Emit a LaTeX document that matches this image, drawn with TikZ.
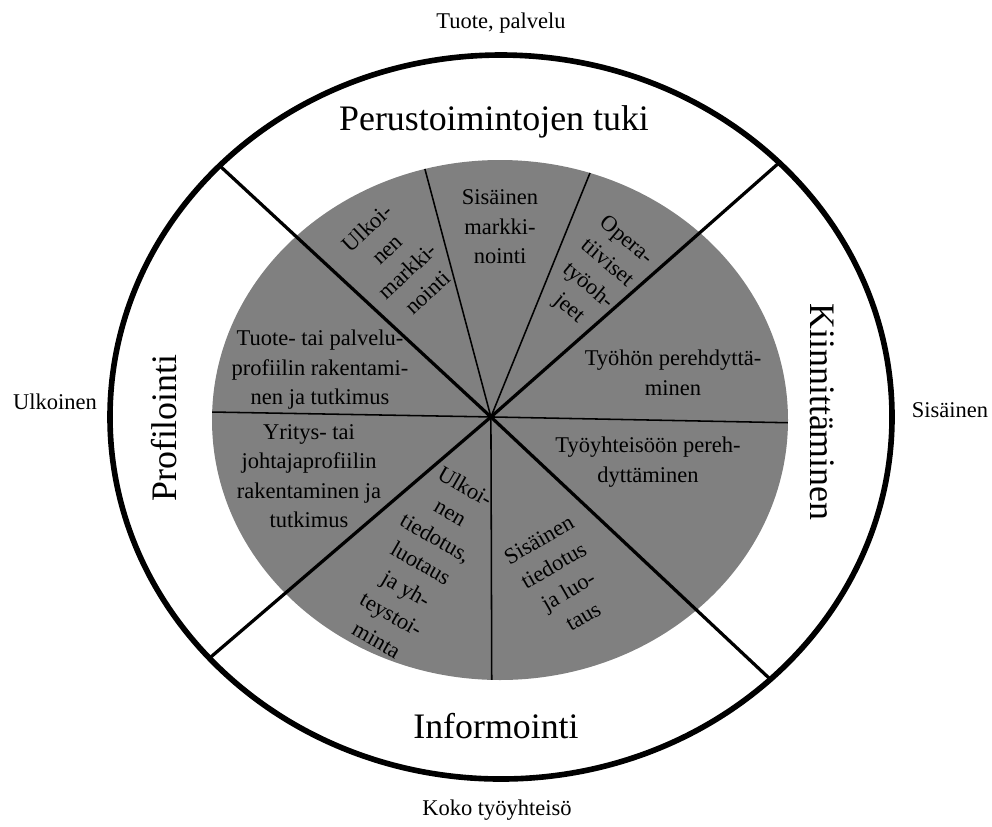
\documentclass[tikz,border=0pt]{standalone}
\usepackage{fontspec}
\setmainfont{Liberation Serif}
\definecolor{pieGray}{RGB}{128,128,128}

\begin{document}
\begin{tikzpicture}[scale = 25]
	\tikzstyle{ringStyle} = [line width = 4pt]
	\tikzstyle{thickStyle} = [line width = 2.3pt]
	\tikzstyle{thinStyle} = [line width = 1.1pt]
	\tikzstyle{sectorStyle} = [align = center, inner sep = 0pt, font = \fontsize{16}{21}\selectfont]
	\tikzstyle{ringLabelStyle} = [inner sep = 0pt, font = \fontsize{25.5}{30}\selectfont]
	\tikzstyle{axisStyle} = [inner sep = 0pt, font = \fontsize{16}{20}\selectfont]
	\useasboundingbox (0.000, 0.000) rectangle (0.992, -0.826);
	\coordinate (c) at (0.491, -0.417);
	\coordinate (g0) at (0.150, -0.411);
	\coordinate (g1) at (0.850, -0.424);
	\coordinate (g2) at (0.413, -0.124);
	\coordinate (g3) at (0.610, -0.124);
	\coordinate (g4) at (0.492, -0.740);
	\coordinate (e0) at (0.220, -0.166);
	\coordinate (e1) at (0.779, -0.163);
	\coordinate (e2) at (0.211, -0.657);
	\coordinate (e3) at (0.770, -0.679);
	\fill[pieGray] (0.500, -0.420) ellipse [x radius = 0.288, y radius = 0.260];
	\begin{scope}
		\clip (0.500, -0.420) ellipse [x radius = 0.288, y radius = 0.260];
		\draw[thinStyle] (c) -- (g0);
		\draw[thinStyle] (c) -- (g1);
		\draw[thinStyle] (c) -- (g2);
		\draw[thinStyle] (c) -- (g3);
		\draw[thinStyle] (c) -- (g4);
	\end{scope}
	\draw[thickStyle] (c) -- (e0);
	\draw[thickStyle] (c) -- (e1);
	\draw[thickStyle] (c) -- (e2);
	\draw[thickStyle] (c) -- (e3);
	\draw[ringStyle] (0.501, -0.417) ellipse [x radius = 0.391, y radius = 0.362];
	\node[sectorStyle, rotate = 43] (s0) at (0.397, -0.260) {Ulkoi-\\nen\\markki-\\nointi};
	\node[sectorStyle] (s1) at (0.500, -0.227) {Sisäinen\\markki-\\nointi};
	\node[sectorStyle, rotate = -40] (s2) at (0.597, -0.275) {Opera-\\tiiviset\\työoh-\\jeet};
	\node[sectorStyle] (s3) at (0.320, -0.370) {Tuote- tai palvelu-\\profiilin rakentami-\\nen ja tutkimus};
	\node[sectorStyle] (s4) at (0.673, -0.373) {Työhön perehdyttä-\\minen};
	\node[sectorStyle] (s5) at (0.309, -0.476) {Yritys- tai\\johtajaprofiilin\\rakentaminen ja\\tutkimus};
	\node[sectorStyle, rotate = -30] (s6) at (0.421, -0.563) {Ulkoi-\\nen\\tiedotus,\\luotaus\\ja yh-\\teystoi-\\minta};
	\node[sectorStyle, rotate = 30] (s7) at (0.561, -0.578) {Sisäinen\\tiedotus\\ja luo-\\taus};
	\node[sectorStyle] (s8) at (0.648, -0.462) {Työyhteisöön pereh-\\dyttäminen};
	\node[ringLabelStyle] (r0) at (0.494, -0.122) {Perustoimintojen tuki};
	\node[ringLabelStyle, rotate = -90] (r1) at (0.822, -0.412) {Kiinnittäminen};
	\node[ringLabelStyle] (r2) at (0.496, -0.726) {Informointi};
	\node[ringLabelStyle, rotate = 90] (r3) at (0.164, -0.428) {Profilointi};
	\node[axisStyle] (a0) at (0.501, -0.023) {Tuote, palvelu};
	\node[axisStyle] (a1) at (0.950, -0.410) {Sisäinen};
	\node[axisStyle] (a2) at (0.497, -0.810) {Koko työyhteisö};
	\node[axisStyle] (a3) at (0.055, -0.402) {Ulkoinen};
\end{tikzpicture}
\end{document}
